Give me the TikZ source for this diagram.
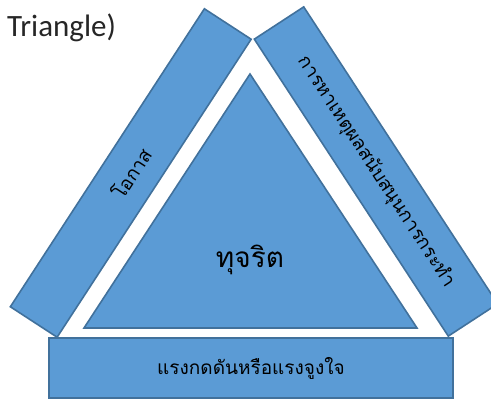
\documentclass[tikz,border=0pt]{standalone}
\usepackage{fontspec}
\newfontfamily\thai[Script=Thai]{Loma}
\newfontfamily\latinf{Carlito}
\definecolor{barfill}{HTML}{5B9BD5}
\definecolor{barline}{HTML}{41719C}
\begin{document}
\begin{tikzpicture}[x=1pt,y=1pt,
  bar/.style={draw=barline, fill=barfill, line width=1.6pt, rectangle, inner sep=0pt, font=\thai\fontsize{19}{21}\selectfont, text=black}]
\useasboundingbox (0,0) rectangle (491,399);
\clip (0,0) rectangle (491,399);
% left bar
\node[bar, minimum width=355.6pt, minimum height=55.8pt, rotate=56.93] (opp) at (130.75,226) {โอกาส};
% right bar
\node[bar, minimum width=354.7pt, minimum height=59pt, rotate=-56.85] (rat) at (376,227.5) {การหาเหตุผลสนับสนุนการกระทำ};
% bottom bar
\node[bar, minimum width=404pt, minimum height=60pt] (pre) at (251,31) {แรงกดดันหรือแรงจูงใจ};
% central triangle
\coordinate (tl) at (84,71);
\coordinate (tr) at (417,71);
\coordinate (tt) at (250,325);
\draw[draw=barline, fill=barfill, line width=1.6pt] (tl) -- (tr) -- (tt) -- cycle;
\node[font=\thai\fontsize{28}{30}\selectfont] (fraud) at (250,139) {ทุจริต};
% title fragment
\node[anchor=base west, inner sep=0pt, font=\latinf\fontsize{31}{33}\selectfont, text=black!85] (title) at (7,362) {Triangle)};
\end{tikzpicture}
\end{document}
